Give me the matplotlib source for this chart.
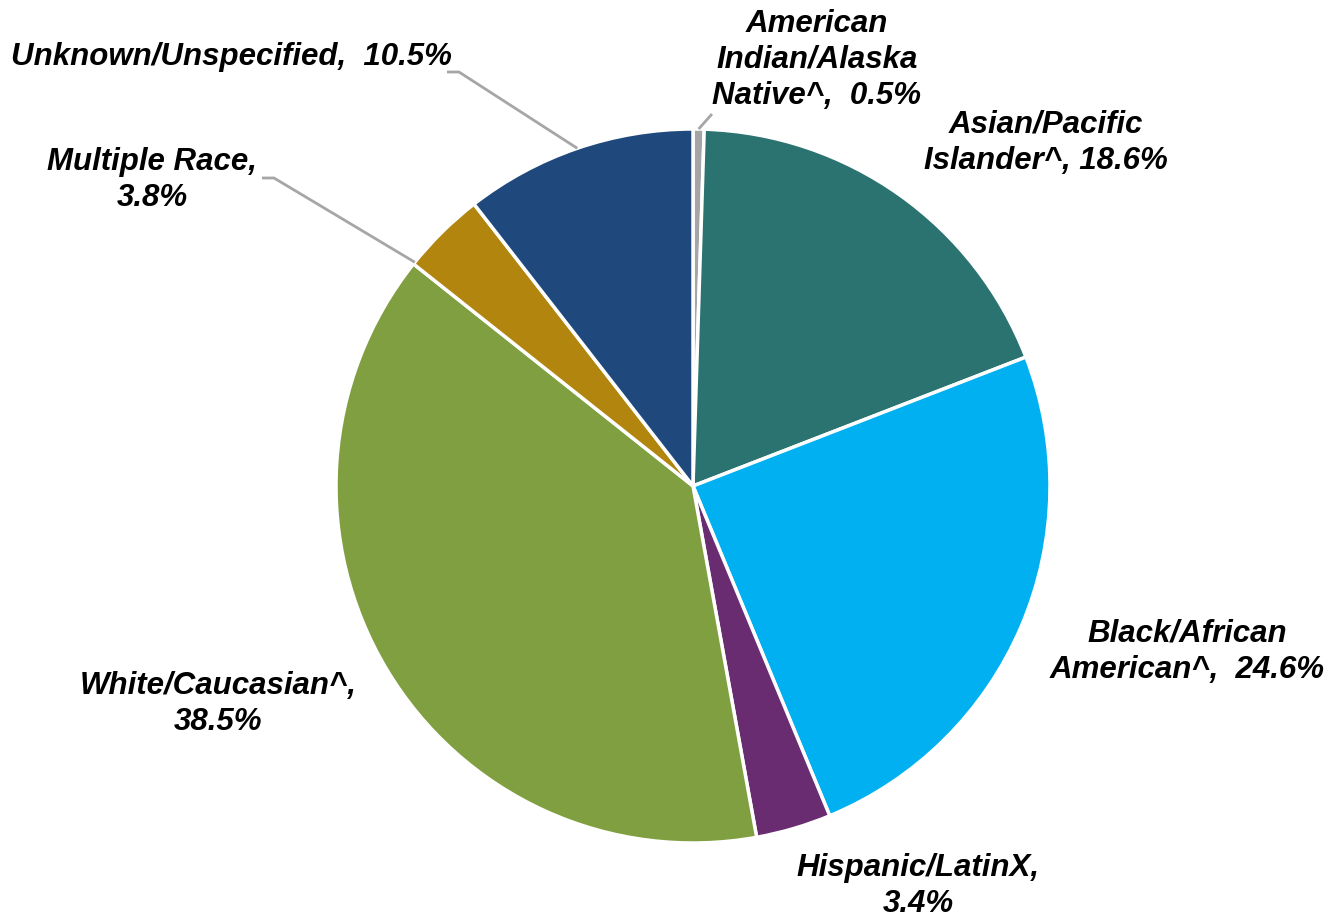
import numpy as np
import matplotlib
matplotlib.use("Agg")
import matplotlib.pyplot as plt

# Race/ethnicity distribution, in drawing order (clockwise from 12 o'clock)
categories = [
    "American\nIndian/Alaska\nNative^",
    "Asian/Pacific\nIslander^",
    "Black/African\nAmerican^",
    "Hispanic/LatinX",
    "White/Caucasian^",
    "Multiple Race",
    "Unknown/Unspecified",
]
shares = [0.5, 18.6, 24.6, 3.4, 38.5, 3.8, 10.5]
colors = ["#a5a5a5", "#2b7370", "#00b0f0", "#6a2c70", "#7f9f40", "#b2850f", "#1f497d"]

# how each label is joined to its value
joiners = ["{},  {:.1f}%", "{}, {:.1f}%", "{},  {:.1f}%", "{},\n{:.1f}%",
           "{},\n{:.1f}%", "{},\n{:.1f}%", "{},  {:.1f}%"]

W, H = 1327, 919
fig = plt.figure(figsize=(W / 100, H / 100), dpi=100)
ax = fig.add_axes([0, 0, 1, 1])

cx, cy, r = 693, H - 486, 357
wedges, _ = ax.pie(shares, colors=colors, startangle=90, counterclock=False,
                   center=(cx, cy), radius=r, frame=True,
                   wedgeprops=dict(edgecolor="white", linewidth=2.5))
ax.set_xlim(0, W)
ax.set_ylim(0, H)
ax.set_aspect("equal")
ax.axis("off")

# label placement (pixel centres) and leader-line settings
label_pos = [(817, H - 60), (1046, H - 143), (1187, H - 652), (918, H - 886),
             (218, H - 704), (152, H - 180), (231, H - 57)]
# wedge index -> (angle shift in degrees, line start, short horizontal run)
leaders = {0: (0.0, (712, H - 114), 0),
           5: (6.5, (262, H - 178), 12),
           6: (0.0, (447, H - 72), 12)}

for i, (cat, val, fmt) in enumerate(zip(categories, shares, joiners)):
    x, y = label_pos[i]
    ax.text(x, y, fmt.format(cat, val), ha="center", va="center",
            fontsize=22.5, fontweight="bold", fontstyle="italic",
            family="Liberation Sans", color="black", linespacing=1.28)

for i, (shift, (tx, ty), run) in leaders.items():
    w = wedges[i]
    ang = np.deg2rad((w.theta1 + w.theta2) / 2 + shift)
    px, py = cx + r * np.cos(ang), cy + r * np.sin(ang)
    ax.plot([tx, tx + run, px], [ty, ty, py], color="#a6a6a6", lw=2,
            solid_capstyle="butt", solid_joinstyle="round")

fig.savefig("out.png", dpi=100)
